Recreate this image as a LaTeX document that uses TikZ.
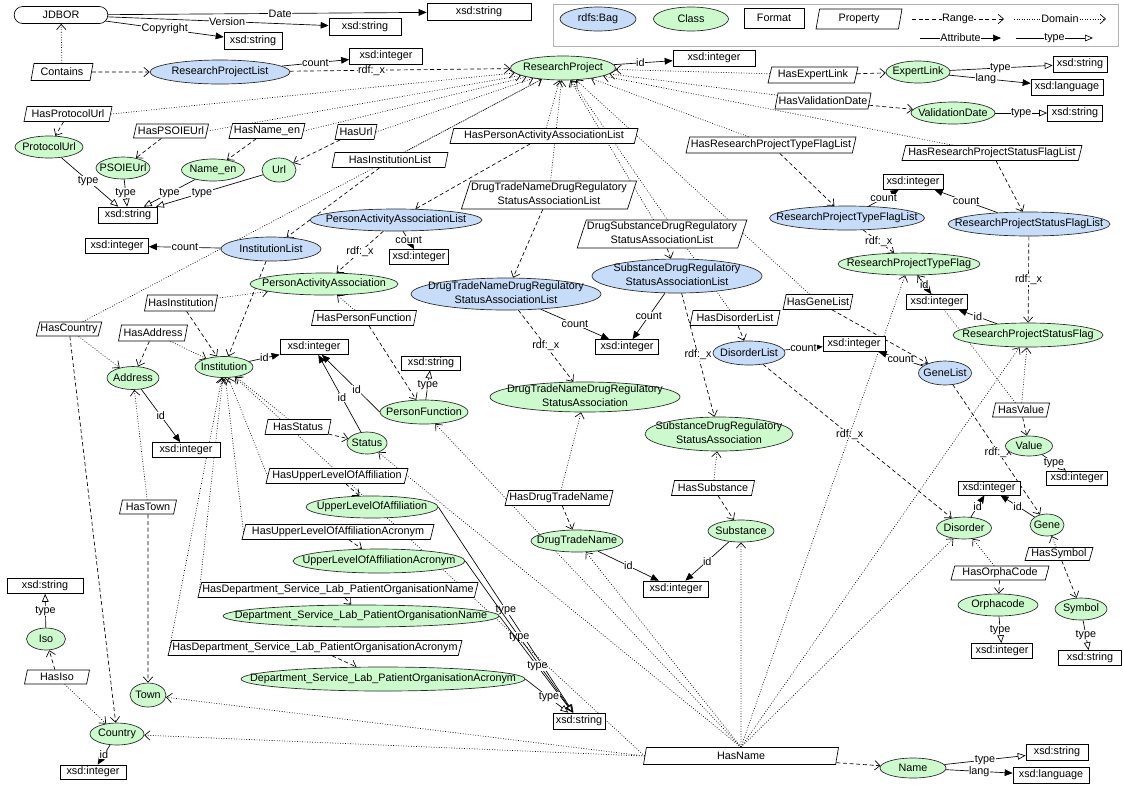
\documentclass[tikz,border=0pt]{standalone}
\usepackage{fontspec}
\setmainfont{Liberation Sans}
\usetikzlibrary{arrows.meta,shapes.geometric,shapes.misc,backgrounds}
\definecolor{cgreen}{RGB}{204,250,204}
\definecolor{cblue}{RGB}{198,220,248}
\newcommand\twol[2]{\begin{tabular}{@{}c@{}}#1\\#2\end{tabular}}
\tikzset{
 base/.style={font=\fontsize{8.1}{10.5}\selectfont, inner sep=0.5pt, line width=0.5pt},
 sz/.style 2 args={minimum width=#1*0.75pt, minimum height=#2*0.75pt},
 ell/.style={base, ellipse, draw=black!85, execute at begin node={\hbox to 0pt\bgroup\hss}, execute at end node={\hss\egroup}},
 cls/.style={ell, fill=cgreen},
 bag/.style={ell, fill=cblue},
 fmt/.style={base, rectangle, draw, fill=white},
 rr/.style={base, rounded rectangle, draw, fill=white},
 prop/.style={base, trapezium, trapezium left angle=72, trapezium right angle=108, trapezium stretches body, draw, fill=white},
 lbl/.style={font=\fontsize{8.1}{9}\selectfont, fill=white, inner sep=0.4pt},
 dom/.style={line width=0.5pt, dash pattern=on 0.6pt off 1.3pt, -{Straight Barb[length=4pt,width=7pt]}},
 rng/.style={line width=0.5pt, dash pattern=on 3pt off 2pt, -{Straight Barb[length=4pt,width=7pt]}},
 att/.style={line width=0.5pt, -{Triangle[length=6pt,width=5pt]}},
 typ/.style={line width=0.5pt, -{Triangle[open,length=6pt,width=5pt]}},
}
\begin{document}
\begin{tikzpicture}[x=0.75pt,y=-0.75pt]
\useasboundingbox (0,0) rectangle (1123,794);
% legend
\draw[gray!60, line width=0.6pt] (553,4) rectangle (1118,46);
\node[bag,sz={76}{24}] (lgbag) at (598,19) {rdfs:Bag};
\node[cls,sz={75}{24}] (lgcls) at (691,19) {Class};
\node[fmt,sz={60}{20}] (lgfmt) at (774,18) {Format};
\node[prop,sz={86}{20}] (lgprop) at (859,19) {Property};
\coordinate (r1) at (912,19); \coordinate (r2) at (1004,19);
\coordinate (d1) at (1014,19); \coordinate (d2) at (1106,19);
\coordinate (a1) at (920,38); \coordinate (a2) at (1001,38);
\coordinate (t1) at (1016,38); \coordinate (t2) at (1093,38);
\draw[rng] (r1) -- node[lbl]{Range} (r2);
\draw[dom] (d1) -- node[lbl]{Domain} (d2);
\draw[att] (a1) -- node[lbl]{Attribute} (a2);
\draw[typ] (t1) -- node[lbl]{type} (t2);

% top
\node[rr,sz={95}{17}] (jdbor) at (61,15) {JDBOR};
\node[fmt,sz={104}{17}] (dstr1) at (479,12) {xsd:string};
\node[fmt,sz={72}{17}] (dstr2) at (365,27) {xsd:string};
\node[fmt,sz={58}{17}] (dstr3) at (253,41) {xsd:string};
\node[prop,sz={62}{17}] (contains) at (62,72) {Contains};
\node[bag,sz={140}{24}] (rpl) at (220,72) {ResearchProjectList};
\node[fmt,sz={73}{16}] (rplint) at (386,56) {xsd:integer};
\node[cls,sz={105}{24}] (rp) at (563,68) {ResearchProject};
\node[fmt,sz={82}{16}] (rpint) at (714,58) {xsd:integer};
\node[prop,sz={90}{16}] (hasExpertLink) at (813,75) {HasExpertLink};
\node[cls,sz={64}{22}] (expertLink) at (918,72) {ExpertLink};
\node[fmt,sz={54}{16}] (elstr) at (1080,64) {xsd:string};
\node[fmt,sz={72}{16}] (ellang) at (1067,87) {xsd:language};
\node[prop,sz={96}{16}] (hasValDate) at (823,101) {HasValidationDate};
\node[cls,sz={84}{22}] (valDate) at (953,113) {ValidationDate};
\node[fmt,sz={55}{16}] (vdstr) at (1075,113) {xsd:string};
\node[prop,sz={170}{16}] (hasTFL) at (771,145) {HasResearchProjectTypeFlagList};
\node[prop,sz={180}{15}] (hasSFL) at (992,153) {HasResearchProjectStatusFlagList};
\node[bag,sz={155}{24}] (tfl) at (847,218) {ResearchProjectTypeFlagList};
\node[bag,sz={162}{24}] (sfl) at (1029,224) {ResearchProjectStatusFlagList};
\node[fmt,sz={60}{15}] (flint) at (913,182) {xsd:integer};
\node[cls,sz={142}{22}] (tf) at (909,264) {ResearchProjectTypeFlag};
\node[fmt,sz={61}{15}] (tfint) at (937,302) {xsd:integer};
\node[cls,sz={150}{24}] (sf) at (1028,335) {ResearchProjectStatusFlag};
\node[bag,sz={53}{24}] (geneList) at (945,373) {GeneList};
\node[prop,sz={68}{15}] (hasGeneList) at (818,302) {HasGeneList};
\node[fmt,sz={62}{15}] (dlint) at (854,344) {xsd:integer};
\node[bag,sz={72}{24}] (disorderList) at (749,353) {DisorderList};
\node[prop,sz={90}{15}] (hasDisorderList) at (735,318) {HasDisorderList};
\node[bag,sz={170}{34},inner ysep=-3pt] (sdrsal) at (677,276) {\twol{SubstanceDrugRegulatory}{StatusAssociationList}};
\node[prop,sz={160}{28},inner ysep=0pt] (propSDRSAL) at (662,234) {\twol{DrugSubstanceDrugRegulatory}{StatusAssociationList}};
\node[fmt,sz={63}{15}] (cint) at (627,347) {xsd:integer};
\node[bag,sz={190}{32},inner ysep=-3pt] (dtnl) at (506,294) {\twol{DrugTradeNameDrugRegulatory}{StatusAssociationList}};
\node[prop,sz={162}{27},inner ysep=0pt] (propDTNL) at (549,195) {\twol{DrugTradeNameDrugRegulatory}{StatusAssociationList}};
\node[cls,sz={190}{30},inner ysep=-3pt] (dtna) at (585,397) {\twol{DrugTradeNameDrugRegulatory}{StatusAssociation}};
\node[cls,sz={148}{34},inner ysep=-3pt] (sdrsa) at (719,434) {\twol{SubstanceDrugRegulatory}{StatusAssociation}};
\node[prop,sz={83}{15}] (hasSubstance) at (713,488) {HasSubstance};
\node[cls,sz={66}{22}] (substance) at (741,531) {Substance};
\node[prop,sz={108}{15}] (hasDTN) at (559,498) {HasDrugTradeName};
\node[cls,sz={92}{22}] (dtn) at (577,541) {DrugTradeName};
\node[fmt,sz={65}{16}] (dtnint) at (676,589) {xsd:integer};
\node[prop,sz={195}{17}] (hasName) at (741,756) {HasName};
\node[cls,sz={66}{20}] (name) at (913,768) {Name};
\node[fmt,sz={62}{16}] (nstr) at (1057,752) {xsd:string};
\node[fmt,sz={76}{16}] (nlang) at (1051,775) {xsd:language};
% left
\node[prop,sz={88}{15}] (hasProtocolUrl) at (68,114) {HasProtocolUrl};
\node[cls,sz={68}{22}] (protocolUrl) at (49,147) {ProtocolUrl};
\node[prop,sz={75}{14}] (hasPSOIEUrl) at (171,131) {HasPSOIEUrl};
\node[cls,sz={54}{22}] (psoieUrl) at (123,168) {PSOIEUrl};
\node[prop,sz={76}{15}] (hasNameEn) at (267,131) {HasName\_en};
\node[cls,sz={63}{22}] (nameEn) at (213,170) {Name\_en};
\node[prop,sz={42}{15}] (hasUrl) at (356,132) {HasUrl};
\node[cls,sz={34}{24}] (url) at (279,170) {Url};
\node[fmt,sz={59}{16}] (ustr) at (128,215) {xsd:string};
\node[prop,sz={116}{15}] (hasInstList) at (390,160) {HasInstitutionList};
\node[bag,sz={100}{24}] (instList) at (271,249) {InstitutionList};
\node[fmt,sz={63}{15}] (ilint) at (117,246) {xsd:integer};
\node[prop,sz={188}{15}] (hasPAAL) at (544,136) {HasPersonActivityAssociationList};
\node[bag,sz={172}{22}] (paal) at (396,220) {PersonActivityAssociationList};
\node[fmt,sz={59}{15}] (paalint) at (419,257) {xsd:integer};
\node[cls,sz={148}{22}] (paa) at (324,284) {PersonActivityAssociation};
\node[prop,sz={73}{16}] (hasInst) at (181,303) {HasInstitution};
\node[prop,sz={65}{14}] (hasCountry) at (69,329) {HasCountry};
\node[prop,sz={69}{16}] (hasAddress) at (153,333) {HasAddress};
\node[cls,sz={52}{23}] (address) at (133,378) {Address};
\node[cls,sz={58}{21}] (inst) at (224,367) {Institution};
\node[fmt,sz={68}{15}] (instint) at (314,347) {xsd:integer};
\node[fmt,sz={68}{15}] (addrint) at (186,450) {xsd:integer};
\node[prop,sz={105}{15}] (hasPF) at (364,318) {HasPersonFunction};
\node[cls,sz={88}{24}] (pf) at (424,412) {PersonFunction};
\node[fmt,sz={59}{14}] (pfstr) at (431,363) {xsd:string};
\node[prop,sz={66}{15}] (hasStatus) at (298,427) {HasStatus};
\node[cls,sz={40}{22}] (status) at (367,443) {Status};
\node[prop,sz={142}{15}] (hasULA) at (337,476) {HasUpperLevelOfAffiliation};
\node[cls,sz={132}{22}] (ula) at (372,507) {UpperLevelOfAffiliation};
\node[prop,sz={192}{15}] (hasULAA) at (338,532) {HasUpperLevelOfAffiliationAcronym};
\node[cls,sz={172}{24}] (ulaa) at (379,561) {UpperLevelOfAffiliationAcronym};
\node[prop,sz={280}{15}] (hasDN) at (338,590) {HasDepartment\_Service\_Lab\_PatientOrganisationName};
\node[cls,sz={276}{22}] (dn) at (361,616) {Department\_Service\_Lab\_PatientOrganisationName};
\node[prop,sz={290}{15}] (hasDA) at (315,648) {HasDepartment\_Service\_Lab\_PatientOrganisationAcronym};
\node[cls,sz={284}{24}] (da) at (383,679) {Department\_Service\_Lab\_PatientOrganisationAcronym};
\node[fmt,sz={52}{16}] (tstr) at (579,721) {xsd:string};
\node[prop,sz={57}{14}] (hasTown) at (148,507) {HasTown};
\node[cls,sz={36}{24}] (town) at (148,695) {Town};
\node[cls,sz={54}{22}] (country) at (117,734) {Country};
\node[fmt,sz={66}{14}] (cint2) at (93,772) {xsd:integer};
\node[cls,sz={39}{22}] (iso) at (46,639) {Iso};
\node[fmt,sz={76}{15}] (isostr) at (45,586) {xsd:string};
\node[prop,sz={65}{14}] (hasIso) at (57,677) {HasIso};
% right bottom
\node[cls,sz={55}{22}] (disorder) at (964,528) {Disorder};
\node[cls,sz={34}{22}] (gene) at (1047,525) {Gene};
\node[fmt,sz={62}{14}] (dgint) at (989,488) {xsd:integer};
\node[prop,sz={98}{14}] (hasOrpha) at (1000,573) {HasOrphaCode};
\node[cls,sz={80}{22}] (orpha) at (998,605) {Orphacode};
\node[fmt,sz={61}{15}] (orphaint) at (1002,651) {xsd:integer};
\node[prop,sz={68}{13}] (hasSymbol) at (1059,554) {HasSymbol};
\node[cls,sz={52}{22}] (symbol) at (1081,609) {Symbol};
\node[fmt,sz={63}{15}] (symstr) at (1090,658) {xsd:string};
\node[prop,sz={57}{14}] (hasValue) at (1021,410) {HasValue};
\node[cls,sz={47}{20}] (value) at (1029,446) {Value};
\node[fmt,sz={61}{14}] (valint) at (1077,478) {xsd:integer};

\begin{scope}[on background layer]
% attributes
\draw[att] (jdbor) -- node[lbl,pos=0.54]{Date} (dstr1);
\draw[att] (jdbor) -- node[lbl,pos=0.54]{Version} (dstr2);
\draw[att] (jdbor) -- node[lbl,pos=0.5]{Copyright} (dstr3);
\draw[att] (rpl) -- node[lbl]{count} (rplint);
\draw[att] (rp) -- node[lbl,pos=0.45]{id} (rpint);
\draw[att] (expertLink) -- node[lbl,pos=0.45]{lang} (ellang);
\draw[att] (tfl) -- node[lbl]{count} (flint);
\draw[att] (sfl) -- node[lbl]{count} (flint);
\draw[att] (tf) -- node[lbl]{id} (tfint);
\draw[att] (sf) -- node[lbl]{id} (tfint);
\draw[att] (sdrsal) -- node[lbl]{count} (cint);
\draw[att] (dtnl) -- node[lbl]{count} (cint);
\draw[att] (disorderList) -- node[lbl]{count} (dlint);
\draw[att] (geneList) -- node[lbl]{count} (dlint);
\draw[att] (dtn) -- node[lbl]{id} (dtnint);
\draw[att] (substance) -- node[lbl]{id} (dtnint);
\draw[att] (name) -- node[lbl]{lang} (nlang);
\draw[att] (instList) -- node[lbl]{count} (ilint);
\draw[att] (paal) -- node[lbl]{count} (paalint);
\draw[att] (inst) -- node[lbl]{id} (instint);
\draw[att] (address) -- node[lbl]{id} (addrint);
\draw[att] (pf.west) -- node[lbl,pos=0.4]{id} (instint);
\draw[att] (status) -- node[lbl,pos=0.45]{id} (instint);
\draw[att] (country) -- node[lbl]{id} (cint2);
\draw[att] (disorder) -- node[lbl]{id} (dgint);
\draw[att] (gene) -- node[lbl]{id} (dgint);
% types
\draw[typ] (expertLink) -- node[lbl,pos=0.49]{type} (elstr);
\draw[typ] (valDate) -- node[lbl]{type} (vdstr);
\draw[typ] (name) -- node[lbl]{type} (nstr);
\draw[typ] (protocolUrl) -- node[lbl,pos=0.47]{type} (ustr);
\draw[typ] (psoieUrl) -- node[lbl]{type} (ustr);
\draw[typ] (nameEn) -- node[lbl]{type} (ustr);
\draw[typ] (url) -- node[lbl,pos=0.57]{type} (ustr);
\draw[typ] (pf) -- node[lbl]{type} (pfstr);
\draw[typ] (ula.east) -- node[lbl,pos=0.5]{type} (tstr);
\draw[typ] (ulaa.east) -- node[lbl,pos=0.5]{type} (tstr);
\draw[typ] (dn.east) -- node[lbl,pos=0.52]{type} (tstr);
\draw[typ] (da.east) -- node[lbl,pos=0.55]{type} (tstr);
\draw[typ] (iso) -- node[lbl]{type} (isostr);
\draw[typ] (orpha) -- node[lbl]{type} (orphaint);
\draw[typ] (symbol) -- node[lbl]{type} (symstr);
\draw[typ] (value) -- node[lbl]{type} (valint);
% rdf:_x
\draw[rng] (rpl) -- node[lbl,pos=0.37]{rdf:\_x} (rp);
\draw[rng] (tfl) -- node[lbl]{rdf:\_x} (tf);
\draw[rng] (sfl) -- node[lbl]{rdf:\_x} (sf);
\draw[rng] (dtnl) -- node[lbl]{rdf:\_x} (dtna);
\draw[rng] (sdrsal) -- node[lbl]{rdf:\_x} (sdrsa);
\draw[rng] (paal) -- node[lbl]{rdf:\_x} (paa);
\draw[rng] (disorderList) -- node[lbl,pos=0.46]{rdf:\_x} (disorder);
\draw[rng] (geneList) -- node[lbl,pos=0.52]{rdf:\_x} (gene);
\draw[rng] (instList) -- (inst);
% ranges
\draw[rng] (contains) -- (rpl);
\draw[rng] (hasExpertLink) -- (expertLink);
\draw[rng] (hasValDate) -- (valDate);
\draw[rng] (hasTFL) -- (tfl);
\draw[rng] (hasSFL) -- (sfl);
\draw[rng] (hasGeneList) -- (geneList);
\draw[rng] (hasDisorderList) -- (disorderList);
\draw[rng] (propSDRSAL) -- (sdrsal);
\draw[rng] (propDTNL) -- (dtnl);
\draw[rng] (hasSubstance) -- (substance);
\draw[rng] (hasDTN) -- (dtn);
\draw[rng] (hasName) -- (name);
\draw[rng] (hasProtocolUrl) -- (protocolUrl);
\draw[rng] (hasPSOIEUrl) -- (psoieUrl);
\draw[rng] (hasNameEn) -- (nameEn);
\draw[rng] (hasUrl) -- (url);
\draw[rng] (hasInstList) -- (instList);
\draw[rng] (hasPAAL) -- (paal);
\draw[rng] (hasInst) -- (inst);
\draw[rng] (hasCountry) -- (country);
\draw[rng] (hasAddress) -- (address);
\draw[rng] (hasPF) -- (pf);
\draw[rng] (hasStatus) -- (status);
\draw[rng] (hasULA) -- (ula);
\draw[rng] (hasULAA) -- (ulaa);
\draw[rng] (hasDN) -- (dn);
\draw[rng] (hasDA) -- (da);
\draw[rng] (hasTown) -- (town);
\draw[rng] (hasIso) -- (iso);
\draw[rng] (hasOrpha) -- (orpha);
\draw[rng] (hasSymbol) -- (symbol);
\draw[rng] (hasValue) -- (value);
% domains
\draw[dom] (contains) -- (jdbor);
\draw[dom] (hasProtocolUrl.east) -- (rp);
\draw[dom] (hasPSOIEUrl.east) -- (rp);
\draw[dom] (hasNameEn.east) -- (rp);
\draw[dom] (hasUrl.east) -- (rp);
\draw[dom] (hasInstList) -- (rp);
\draw[dom] (hasPAAL) -- (rp);
\draw[dom] (propDTNL) -- (rp);
\draw[dom] (propSDRSAL) -- (rp);
\draw[dom] (hasDisorderList) -- (rp);
\draw[dom] (hasGeneList) -- (rp);
\draw[dom] (hasExpertLink) -- (rp);
\draw[dom] (hasValDate) -- (rp);
\draw[dom] (hasTFL) -- (rp);
\draw[dom] (hasSFL) -- (rp);
\draw[dom] (hasCountry) -- (rp);
\draw[dom] (hasCountry) -- (address);
\draw[dom] (hasInst) -- (paa);
\draw[dom] (hasPF) -- (paa);
\draw[dom] (hasAddress) -- (inst);
\draw[dom] (hasTown) -- (address);
\draw[dom] (hasStatus) -- (inst);
\draw[dom] (hasULA.west) -- (inst);
\draw[dom] (hasULAA.west) -- (inst);
\draw[dom] (hasDN.west) -- (inst);
\draw[dom] (hasDA.west) -- (inst);
\draw[dom] (hasIso) -- (country);
\draw[dom] (hasSubstance) -- (sdrsa);
\draw[dom] (hasDTN) -- (dtna);
\draw[dom] (hasValue) -- (tf);
\draw[dom] (hasValue) -- (sf);
\draw[dom] (hasOrpha) -- (disorder);
\draw[dom] (hasSymbol) -- (gene);
\draw[dom] (hasName.west) -- (country);
\draw[dom] (hasName.west) -- (town);
\draw[dom] (hasName.west) -- (inst);
\draw[dom] (hasName.north) -- (pf);
\draw[dom] (hasName.north) -- (status);
\draw[dom] (hasName.north) -- (dtn);
\draw[dom] (hasName.north) -- (substance);
\draw[dom] (hasName.north) -- (tf);
\draw[dom] (hasName.north) -- (sf);
\draw[dom] (hasName.north) -- (disorder);
\end{scope}
\end{tikzpicture}
\end{document}
